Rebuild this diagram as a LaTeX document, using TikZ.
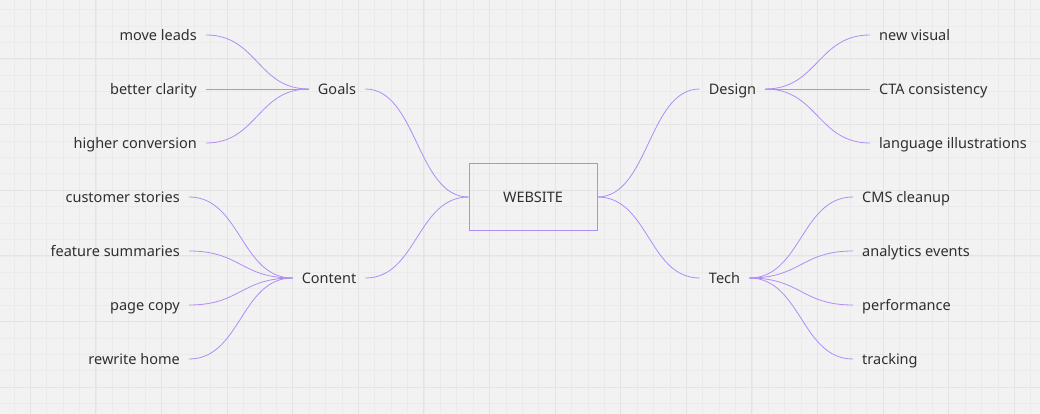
\documentclass[tikz,border=0pt]{standalone}
\usepackage{fontspec}
\setmainfont{Noto Sans}
\usetikzlibrary{calc}
\definecolor{bgc}{HTML}{F2F2F2}
\definecolor{gminor}{HTML}{EBEBEB}
\definecolor{gmajor}{HTML}{E4E4E4}
\definecolor{linkc}{HTML}{B08CF6}
\definecolor{txtc}{HTML}{2F2F2F}
\tikzset{
  lbl/.style={font=\fontsize{14.5}{17}\selectfont, text=txtc, inner xsep=9pt, inner ysep=2pt, text height=12.5pt, text depth=1pt},
  rootbox/.style={lbl, draw=linkc, line width=1pt, minimum width=128pt, minimum height=66pt},
  link/.style={draw=linkc, line width=0.8pt,
    to path={.. controls ($(\tikztostart)!0.5!(\tikztostart-|\tikztotarget)$) and ($(\tikztotarget)!0.5!(\tikztotarget-|\tikztostart)$) .. (\tikztotarget) \tikztonodes}}
}
\begin{document}
\begin{tikzpicture}[x=1pt,y=-1pt]
\useasboundingbox (0,0) rectangle (1040,414);
\fill[bgc] (0,0) rectangle (1040,414);
% grid
\foreach \i in {-2,...,63} {
  \pgfmathsetmacro{\xx}{30.2+16.4*\i}
  \draw[gminor, line width=0.6pt] (\xx,0) -- (\xx,414);
}
\foreach \i in {0,...,26} {
  \pgfmathsetmacro{\yy}{-6.6+16.4*\i}
  \draw[gminor, line width=0.6pt] (0,\yy) -- (1040,\yy);
}
\foreach \i in {0,...,15} {
  \pgfmathsetmacro{\xx}{30.2+65.6*\i}
  \draw[gmajor, line width=1pt] (\xx,0) -- (\xx,414);
}
\foreach \i in {1,...,6} {
  \pgfmathsetmacro{\yy}{-6.6+65.6*\i}
  \draw[gmajor, line width=1pt] (0,\yy) -- (1040,\yy);
}
% nodes
\node[rootbox] (web) at (533,197) {WEBSITE};
\node[lbl] (goals) at (337,89) {Goals};
\node[lbl] (content) at (329,278) {Content};
\node[lbl] (design) at (732.5,89) {Design};
\node[lbl] (tech) at (724.5,278) {Tech};

\node[lbl, anchor=east] (g1) at (206,35) {move leads};
\node[lbl, anchor=east] (g2) at (206,89) {better clarity};
\node[lbl, anchor=east] (g3) at (206,143) {higher conversion};

\node[lbl, anchor=east] (c1) at (189,197) {customer stories};
\node[lbl, anchor=east] (c2) at (189,251) {feature summaries};
\node[lbl, anchor=east] (c3) at (189,305) {page copy};
\node[lbl, anchor=east] (c4) at (189,359) {rewrite home};

\node[lbl, anchor=west] (d1) at (870,35) {new visual};
\node[lbl, anchor=west] (d2) at (870,89) {CTA consistency};
\node[lbl, anchor=west] (d3) at (870,143) {language illustrations};

\node[lbl, anchor=west] (t1) at (853,197) {CMS cleanup};
\node[lbl, anchor=west] (t2) at (853,251) {analytics events};
\node[lbl, anchor=west] (t3) at (853,305) {performance};
\node[lbl, anchor=west] (t4) at (853,359) {tracking};

% links
\draw[link] (goals.east) to (web.west);
\draw[link] (content.east) to (web.west);
\draw[link] (web.east) to (design.west);
\draw[link] (web.east) to (tech.west);
\foreach \n in {g1,g2,g3} \draw[link] (\n.east) to (goals.west);
\foreach \n in {c1,c2,c3,c4} \draw[link] (\n.east) to (content.west);
\foreach \n in {d1,d2,d3} \draw[link] (design.east) to (\n.west);
\foreach \n in {t1,t2,t3,t4} \draw[link] (tech.east) to (\n.west);
\end{tikzpicture}
\end{document}
